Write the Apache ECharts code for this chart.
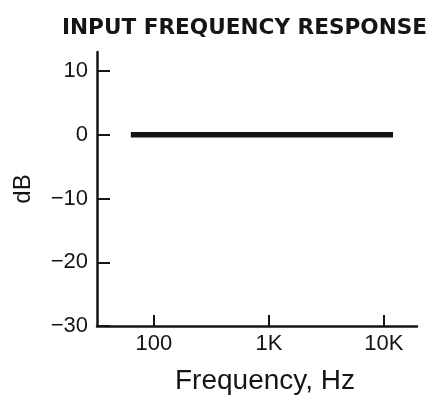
<!DOCTYPE html>
<html>
<head>
<meta charset="utf-8">
<script src="https://cdn.jsdelivr.net/npm/echarts@6/dist/echarts.min.js"></script>
<style>
  html, body { margin: 0; padding: 0; background: #fff; }
  #main { width: 432px; height: 400px; }
</style>
</head>
<body>
<div id="main"></div>
<script>
// response curve: flat at 0 dB across the band
const freqHz = [63, 12000];
const gainDb = [0, 0];
const xTicks = [100, 1000, 10000];
const xTickLabels = ['100', '1K', '10K'];
const yTicks = [-30, -20, -10, 0, 10];

const ink = '#151515';
const chart = echarts.init(document.getElementById('main'));

const option = {
    animation: false,
    backgroundColor: '#fff',
    graphic: [{
        type: 'text',
        left: 62,
        top: 17,
        style: {
            text: 'INPUT FREQUENCY RESPONSE',
            font: 'bold 21.6px "DejaVu Sans"',
            fill: ink
        }
    }],
    grid: { left: 97, right: 15, top: 52, bottom: 73 },
    xAxis: {
        type: 'log',
        logBase: 10,
        min: 32,
        max: 19400,
        name: 'Frequency, Hz',
        nameLocation: 'middle',
        nameGap: 41,
        nameTextStyle: {
            color: ink, fontSize: 28, fontFamily: 'Liberation Sans',
            padding: [0, 0, 0, 16]
        },
        axisLine: { onZero: false, lineStyle: { color: ink, width: 2.5 } },
        axisTick: { inside: true, length: 11, lineStyle: { color: ink, width: 2 }, customValues: xTicks },
        axisLabel: {
            color: ink, fontSize: 22, fontFamily: 'Liberation Sans', margin: 7,
            customValues: xTicks,
            formatter: v => xTickLabels[xTicks.indexOf(Math.round(v))] || ''
        },
        splitLine: { show: false },
        minorTick: { show: false }
    },
    yAxis: {
        type: 'value',
        min: -30,
        max: 13,
        name: 'dB',
        nameLocation: 'middle',
        nameRotate: 90,
        nameGap: 62,
        nameTextStyle: { color: ink, fontSize: 24, fontFamily: 'Liberation Sans' },
        axisLine: { show: true, onZero: false, lineStyle: { color: ink, width: 2.5 } },
        axisTick: { show: true, inside: true, length: 13, lineStyle: { color: ink, width: 2 }, customValues: yTicks },
        axisLabel: {
            color: ink, fontSize: 22, fontFamily: 'Liberation Sans', margin: 9,
            customValues: yTicks,
            formatter: v => v < 0 ? '\u2212' + (-v) : String(v)
        },
        splitLine: { show: false }
    },
    series: [{
        type: 'line',
        data: freqHz.map((f, i) => [f, gainDb[i]]),
        showSymbol: false,
        lineStyle: { color: ink, width: 5.5 }
    }]
};

chart.setOption(option);
</script>
</body>
</html>
